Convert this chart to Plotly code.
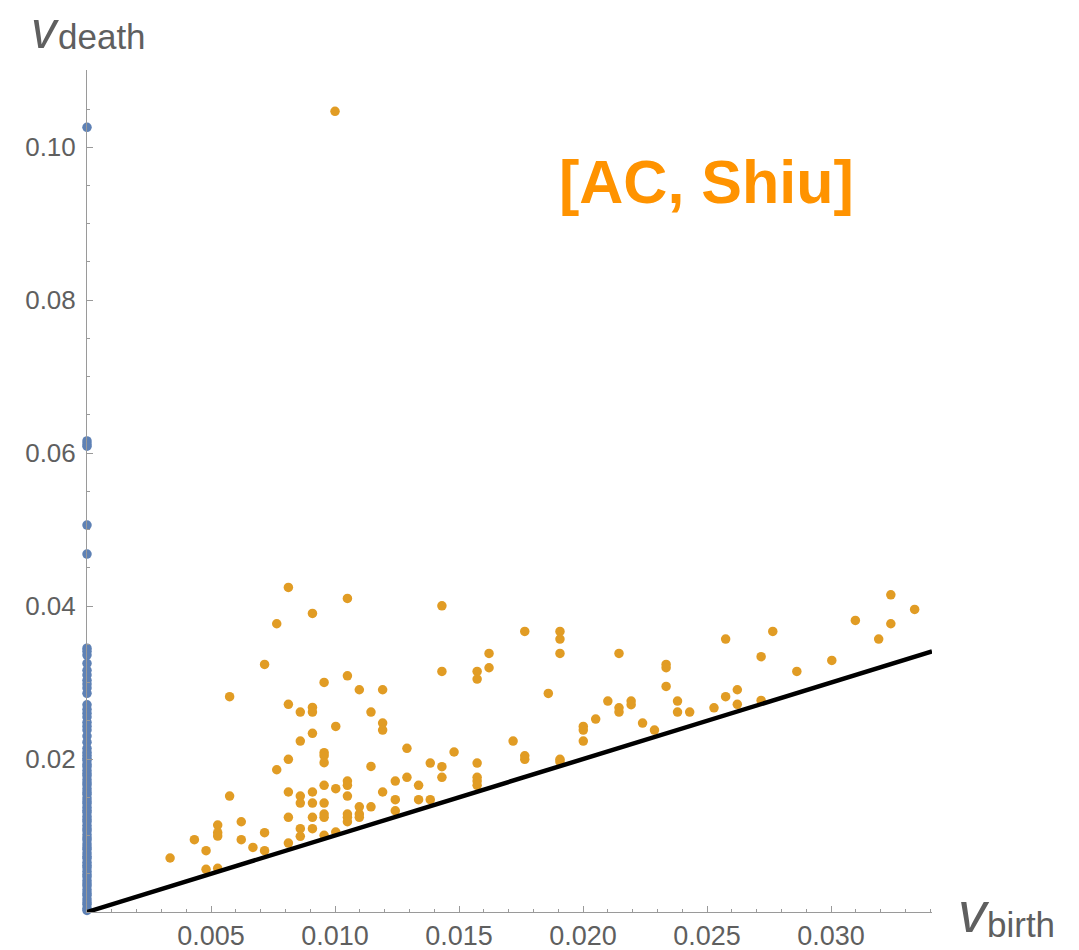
import plotly.graph_objects as go

# ---------------- data ----------------
blue_y = [0.1026, 0.0616, 0.0612, 0.0609, 0.0506, 0.0468,
          0.0345, 0.0341, 0.0336, 0.0325, 0.0316, 0.0310, 0.0303, 0.0298, 0.0293, 0.0286,
          0.0271, 0.0265, 0.0260, 0.0255, 0.0248, 0.0243, 0.0238, 0.0230, 0.0222, 0.0214,
          0.0209, 0.0205, 0.0201, 0.0198, 0.0193, 0.0190, 0.0185, 0.0181, 0.0178, 0.0173,
          0.0169, 0.0166, 0.0161, 0.0157, 0.0154, 0.0149, 0.0145, 0.0142, 0.0137, 0.0133,
          0.0130, 0.0125, 0.0121, 0.0118, 0.0113, 0.0109, 0.0106, 0.0101, 0.0097, 0.0094,
          0.0089, 0.0085, 0.0082, 0.0077, 0.0073, 0.0070, 0.0065, 0.0061, 0.0058, 0.0053,
          0.0049, 0.0046, 0.0041, 0.0037, 0.0034, 0.0029, 0.0025, 0.0022, 0.0017, 0.0013,
          0.0010, 0.0005, 0.0002]
blue_x = [0.0] * len(blue_y)

orange_x = [0.00812, 0.01050, 0.00909, 0.00765, 0.00716, 0.00575, 0.01050, 0.00956, 0.01098, 0.01192,
            0.00812, 0.00860, 0.00909, 0.00909, 0.01145, 0.01003, 0.01192, 0.01192, 0.00909, 0.00860,
            0.00956, 0.00956, 0.00956, 0.00812, 0.00765, 0.01145, 0.01243, 0.00575, 0.00812, 0.00860,
            0.00860, 0.00909, 0.00909, 0.00956, 0.00956, 0.01003, 0.01050, 0.01050, 0.01050, 0.01098,
            0.01145, 0.01192, 0.01243, 0.01243, 0.00812, 0.00860, 0.00860, 0.00909, 0.00909, 0.00956,
            0.00956, 0.00956, 0.01003, 0.01050, 0.01050, 0.01050, 0.01098, 0.01098, 0.00812, 0.00716,
            0.00716, 0.00669, 0.00622, 0.00622, 0.00527, 0.00527, 0.00527, 0.00433, 0.00480, 0.00480,
            0.00527, 0.00335, 0.01000,
            0.01431, 0.01431, 0.01573, 0.01573, 0.01621, 0.01621, 0.01765, 0.01907, 0.01907, 0.01907,
            0.02145, 0.01860, 0.02335, 0.02335, 0.02335, 0.02381, 0.02381, 0.02100, 0.02145, 0.02145,
            0.02194, 0.02194, 0.02051, 0.02001, 0.02001, 0.02001, 0.02240, 0.02288, 0.01290, 0.01480,
            0.01718, 0.01765, 0.01765, 0.01384, 0.01431, 0.01431, 0.01573, 0.01573, 0.01573, 0.01573,
            0.01907, 0.01907, 0.01290, 0.01337, 0.01337, 0.01384,
            0.02430, 0.02528, 0.02575, 0.02575, 0.02622, 0.02622, 0.02718, 0.02718, 0.02765, 0.02862,
            0.03003, 0.03098, 0.03192, 0.03241, 0.03241, 0.03337]
orange_y = [0.04244, 0.04100, 0.03904, 0.03769, 0.03237, 0.02815, 0.03089, 0.03002, 0.02906, 0.02906,
            0.02715, 0.02614, 0.02675, 0.02614, 0.02614, 0.02427, 0.02471, 0.02379, 0.02336, 0.02235,
            0.02083, 0.02044, 0.01952, 0.01996, 0.01860, 0.01904, 0.01712, 0.01516, 0.01569, 0.01516,
            0.01425, 0.01569, 0.01425, 0.01656, 0.01425, 0.01612, 0.01712, 0.01656, 0.01516, 0.01376,
            0.01376, 0.01569, 0.01468, 0.01324, 0.01238, 0.01089, 0.00990, 0.01238, 0.01089, 0.01281,
            0.01238, 0.01003, 0.01046, 0.01281, 0.01238, 0.01180, 0.01281, 0.01238, 0.00902, 0.01037,
            0.00802, 0.00845, 0.01180, 0.00945, 0.01137, 0.01037, 0.00993, 0.00945, 0.00802, 0.00558,
            0.00571, 0.00706, 0.10470,
            0.04004, 0.03146, 0.03146, 0.03046, 0.03381, 0.03194, 0.03669, 0.03669, 0.03569, 0.03381,
            0.03381, 0.02858, 0.03237, 0.03194, 0.02950, 0.02758, 0.02614, 0.02758, 0.02670, 0.02614,
            0.02758, 0.02710, 0.02523, 0.02427, 0.02379, 0.02235, 0.02471, 0.02379, 0.02140, 0.02092,
            0.02235, 0.02043, 0.01996, 0.01948, 0.01900, 0.01761, 0.01948, 0.01761, 0.01712, 0.01656,
            0.01996, 0.01965, 0.01761, 0.01656, 0.01468, 0.01468,
            0.02614, 0.02670, 0.03569, 0.02815, 0.02906, 0.02715, 0.03338, 0.02767, 0.03669, 0.03146,
            0.03290, 0.03813, 0.03569, 0.04148, 0.03769, 0.03957]

diag_x = [0.0, 0.03407]
diag_y = [0.0, 0.03407]

x_tick_vals = [0.005, 0.010, 0.015, 0.020, 0.025, 0.030]
x_tick_text = ["0.005", "0.010", "0.015", "0.020", "0.025", "0.030"]
y_tick_vals = [0.02, 0.04, 0.06, 0.08, 0.10]
y_tick_text = ["0.02", "0.04", "0.06", "0.08", "0.10"]

X_RANGE = [0.0, 0.03407]
Y_RANGE = [0.0, 0.1101]

# ---------------- styles ----------------
BLUE = "#5E81B5"
ORANGE = "#E19C24"
GRAY = "#5f5f5f"
AXIS_GRAY = "#9a9a9a"
FONT = "Liberation Sans"

W, H = 1079, 950
L, R, T, B = 87, 147, 70, 38


def px2paper(px, py):
    return (px - L) / (W - L - R), (H - B - py) / (H - T - B)


fig = go.Figure()
fig.add_trace(go.Scatter(x=blue_x, y=blue_y, mode="markers",
                         marker=dict(size=9.5, color=BLUE, line=dict(width=0)),
                         cliponaxis=False, hoverinfo="skip"))
fig.add_trace(go.Scatter(x=orange_x, y=orange_y, mode="markers",
                         marker=dict(size=9.5, color=ORANGE, line=dict(width=0)),
                         cliponaxis=False, hoverinfo="skip"))
fig.add_trace(go.Scatter(x=diag_x, y=diag_y, mode="lines",
                         line=dict(color="black", width=4.5),
                         cliponaxis=False, hoverinfo="skip"))

axis_common = dict(showgrid=False, zeroline=False, showline=True, linecolor=AXIS_GRAY,
                   linewidth=1, ticks="inside", ticklen=6, tickwidth=1, tickcolor=AXIS_GRAY,
                   automargin=False)

fig.update_xaxes(range=X_RANGE, tickmode="array", tickvals=x_tick_vals, ticktext=x_tick_text,
                 minor=dict(dtick=0.001, ticks="inside", ticklen=3, tickcolor=AXIS_GRAY, tick0=0),
                 tickfont=dict(family=FONT, size=27, color=GRAY),
                 ticklabelstandoff=0, **axis_common)
fig.update_yaxes(range=Y_RANGE, tickmode="array", tickvals=y_tick_vals, ticktext=y_tick_text,
                 minor=dict(dtick=0.005, ticks="inside", ticklen=3, tickcolor=AXIS_GRAY, tick0=0),
                 tickfont=dict(family=FONT, size=26, color=GRAY),
                 ticklabelstandoff=5, **axis_common)

annos = []
# y label: v_death
x0, y0 = px2paper(29, 30)
annos.append(dict(x=x0, y=y0, xref="paper", yref="paper", text="<i>v</i>", showarrow=False,
                  xanchor="left", yanchor="middle",
                  font=dict(family=FONT, size=51, color=GRAY)))
x0, y0 = px2paper(56, 37)
annos.append(dict(x=x0, y=y0, xref="paper", yref="paper", text="death", showarrow=False,
                  xanchor="left", yanchor="middle",
                  font=dict(family=FONT, size=35, color=GRAY)))
# x label: v_birth
x0, y0 = px2paper(956, 912)
annos.append(dict(x=x0, y=y0, xref="paper", yref="paper", text="<i>v</i>", showarrow=False,
                  xanchor="left", yanchor="middle",
                  font=dict(family=FONT, size=57, color=GRAY)))
x0, y0 = px2paper(985, 924)
annos.append(dict(x=x0, y=y0, xref="paper", yref="paper", text="birth", showarrow=False,
                  xanchor="left", yanchor="middle",
                  font=dict(family=FONT, size=35, color=GRAY)))
# label
x0, y0 = px2paper(706, 182)
annos.append(dict(x=x0, y=y0, xref="paper", yref="paper", text="<b>[AC, Shiu]</b>", showarrow=False,
                  xanchor="center", yanchor="middle",
                  font=dict(family=FONT, size=61, color="#FF9300")))

fig.update_layout(width=W, height=H, margin=dict(l=L, r=R, t=T, b=B, pad=0, autoexpand=False),
                  paper_bgcolor="white", plot_bgcolor="white", showlegend=False,
                  annotations=annos)

fig.write_html("out.html")
